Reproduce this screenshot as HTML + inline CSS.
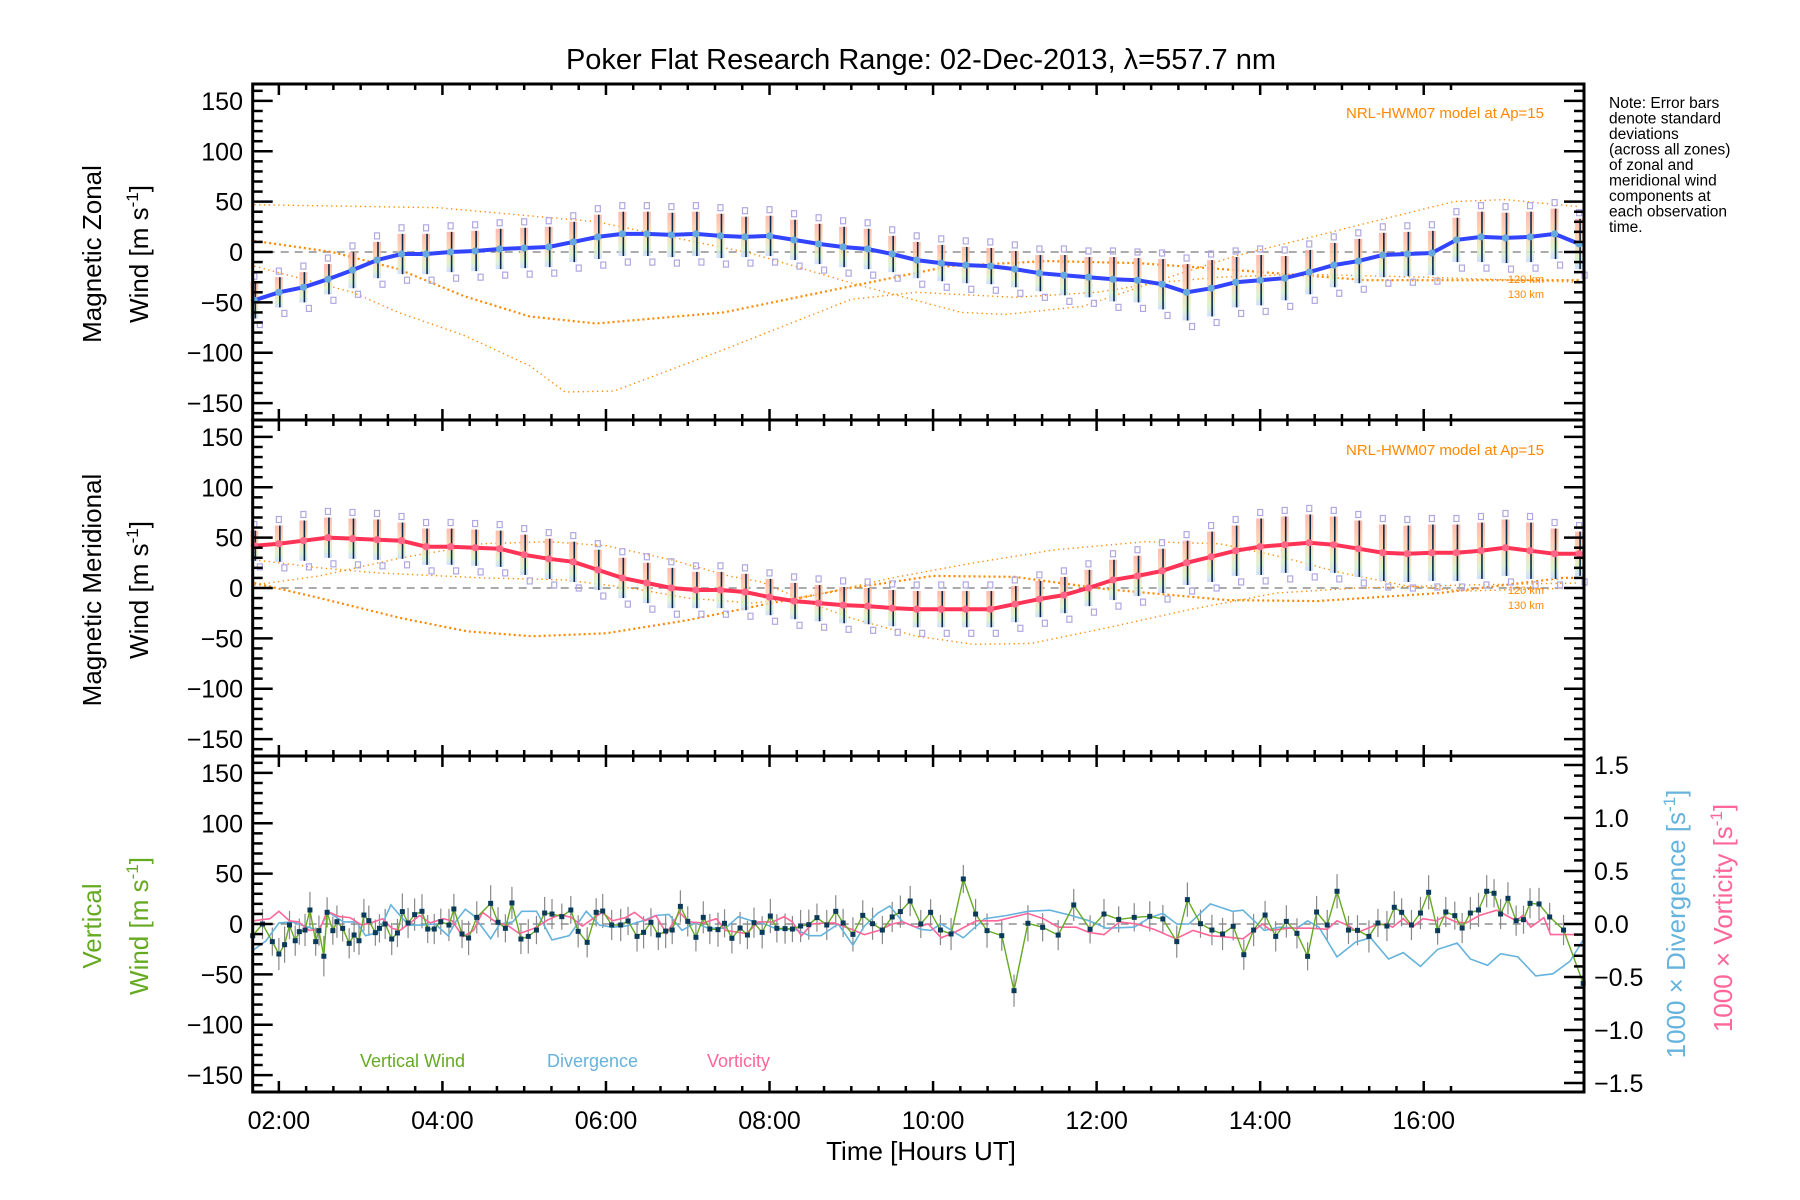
<!DOCTYPE html>
<html><head><meta charset="utf-8"><title>Poker Flat winds</title>
<style>
body{margin:0;background:#fff;}
svg{display:block;font-family:"Liberation Sans",sans-serif;}
</style></head>
<body>
<svg id="chart" width="1800" height="1200" viewBox="0 0 1800 1200" xmlns="http://www.w3.org/2000/svg">
<defs>
<linearGradient id="pastel" x1="0" y1="0" x2="0" y2="1">
<stop offset="0" stop-color="#ffb0a0"/><stop offset="0.5" stop-color="#ffd6a8"/><stop offset="0.8" stop-color="#d8f0c8"/><stop offset="1" stop-color="#c8d8ff"/>
</linearGradient>
</defs>
<rect width="1800" height="1200" fill="#fff"/>
<text x="921" y="69" font-size="29" text-anchor="middle" fill="#000">Poker Flat Research Range: 02-Dec-2013, λ=557.7 nm</text>
<g id="marks"></g>
<g id="axes"></g>
<g font-size="15.5" fill="#000">
<text x="1609" y="108">Note: Error bars</text>
<text x="1609" y="123.5">denote standard</text>
<text x="1609" y="139">deviations</text>
<text x="1609" y="154.5">(across all zones)</text>
<text x="1609" y="170">of zonal and</text>
<text x="1609" y="185.5">meridional wind</text>
<text x="1609" y="201">components at</text>
<text x="1609" y="216.5">each observation</text>
<text x="1609" y="232">time.</text>
</g>
<text x="1544" y="118" font-size="15" text-anchor="end" fill="#ff8800">NRL-HWM07 model at Ap=15</text>
<text x="1544" y="455" font-size="15" text-anchor="end" fill="#ff8800">NRL-HWM07 model at Ap=15</text>
<g font-size="11" fill="#ff8800" text-anchor="end">
<text x="1544" y="283">120 km</text>
<text x="1544" y="298">130 km</text>
<text x="1544" y="594">120 km</text>
<text x="1544" y="609">130 km</text>
</g>
<g font-size="26" text-anchor="middle">
<text transform="translate(101,254) rotate(-90)">Magnetic Zonal</text>
<text transform="translate(148,254) rotate(-90)">Wind [m s<tspan dy="-10" font-size="17">-1</tspan><tspan dy="10">]</tspan></text>
<text transform="translate(101,590) rotate(-90)">Magnetic Meridional</text>
<text transform="translate(148,590) rotate(-90)">Wind [m s<tspan dy="-10" font-size="17">-1</tspan><tspan dy="10">]</tspan></text>
<text fill="#66aa22" transform="translate(101,926) rotate(-90)">Vertical</text>
<text fill="#66aa22" transform="translate(148,926) rotate(-90)">Wind [m s<tspan dy="-10" font-size="17">-1</tspan><tspan dy="10">]</tspan></text>
<text fill="#66b3dd" transform="translate(1685,924) rotate(-90)">1000 × Divergence [s<tspan dy="-10" font-size="17">-1</tspan><tspan dy="10">]</tspan></text>
<text fill="#ff6699" transform="translate(1732,918) rotate(-90)">1000 × Vorticity [s<tspan dy="-10" font-size="17">-1</tspan><tspan dy="10">]</tspan></text>
</g>
<text x="921" y="1160" font-size="26" text-anchor="middle">Time [Hours UT]</text>
<g font-size="18">
<text x="360" y="1067" fill="#66aa22">Vertical Wind</text>
<text x="547" y="1067" fill="#66b3dd">Divergence</text>
<text x="707" y="1067" fill="#ff6699">Vorticity</text>
</g>
</svg>
<script>
// ---- data ----
const meanTimes = [1.7,2.0,2.3,2.6,2.9,3.2,3.5,3.8,4.1,4.4,4.7,5.0,5.3,5.6,5.9,6.2,6.5,6.8,7.1,7.4,7.7,8.0,8.3,8.6,8.9,9.2,9.5,9.8,10.1,10.4,10.7,11.0,11.3,11.6,11.9,12.2,12.5,12.8,13.1,13.4,13.7,14.0,14.3,14.6,14.9,15.2,15.5,15.8,16.1,16.4,16.7,17.0,17.3,17.6,17.9];
const zonalMean = [-48,-40,-35,-27,-18,-8,-2,-2,0,1, 3,4,5,10,15,18,18,17,18,16, 15,16,12,8,5,3,-2,-8,-11,-13, -14,-17,-21,-23,-25,-27,-28,-32,-40,-36, -30,-28,-26,-20,-13,-9,-3,-2,-1,12, 15,14,15,18,8];
const zonalStd = [18,15,15,15,18,18,20,20,20,20, 20,20,20,20,22,22,22,22,22,22, 20,20,20,20,20,20,18,18,18,18, 18,18,18,20,20,22,22,25,28,28, 25,25,22,22,22,22,22,22,22,22, 25,25,25,25,25];
const meridMean = [42,44,47,50,49,48,47,41,41,40, 39,33,29,26,18,10,5,0,-2,-2, -4,-9,-13,-15,-17,-18,-20,-21,-21,-21, -21,-16,-11,-7,0,8,12,17,25,31, 37,41,43,45,43,39,35,34,35,35, 37,40,37,34,34];
const meridStd = [15,18,20,20,20,20,18,18,18,18, 18,20,20,20,20,20,20,20,18,18, 18,18,18,18,18,18,18,18,18,18, 18,18,18,18,18,20,20,22,22,25, 25,28,28,28,28,28,28,28,28,28, 28,28,28,25,22];

const zModelATimes = [1.7,3.95,5.88,7.76,9.01,10.34,10.89,11.83,12.92,13.7,14.49,15.27,16.37,17.0,17.9];
const zModelA = [47,44,30,-1,-31,-60,-62,-54,-24,-4,12,28,50,52,45];
const zModelBTimes = [1.7,2.65,3.46,4.27,5.07,5.88,7.44,9.0,10.2,11.4,12.5,13.7,15.3,17.9];
const zModelB = [11,0,-17,-44,-64,-71,-60,-34,-14,-9,-11,-18,-28,-28];
const zModelCTimes = [1.7,2.9,3.46,4.27,5.07,5.5,6.1,7.44,9.0,9.8,11.0,12.0,12.8,13.5,14.5,16.0,17.9];
const zModelC = [-14,-40,-60,-83,-113,-139,-138,-97,-47,-40,-45,-40,-30,-25,-22,-25,-30];
const mModelATimes = [1.7,2.5,3.5,4.5,5.3,6.0,6.8,7.5,7.9,8.5,9.0,9.8,10.5,11.2,12.1,13.1,14.2,15.2,16.5,17.9];
const mModelA = [3,12,30,44,46,42,28,12,6,-15,-30,-48,-56,-55,-40,-22,-5,0,3,5];
const mModelBTimes = [1.7,2.5,3.5,4.3,5.1,6.0,7.0,7.9,9.0,10.0,11.0,12.1,13.6,14.7,16.2,17.7,17.9];
const mModelB = [5,-10,-30,-43,-48,-45,-32,-17,0,12,11,-1,-12,-13,-5,10,10];
const mModelCTimes = [1.7,2.5,3.2,4.5,5.5,6.3,7.0,7.8,8.5,9.5,10.5,11.5,12.6,13.5,14.2,15.0,15.8,16.5,17.9];
const mModelC = [28,20,15,10,8,0,-10,-15,-8,10,25,38,46,44,32,15,2,-3,0];

const vertTimes = [1.68,1.80,1.92,2.00,2.07,2.13,2.20,2.25,2.32,2.38,2.45,2.49,2.55,2.59,2.66,2.71,2.78,2.86,2.92,2.98,3.04,3.10,3.18,3.23,3.30,3.38,3.45,3.51,3.58,3.66,3.75,3.82,3.90,3.98,4.08,4.14,4.24,4.32,4.42,4.59,4.68,4.77,4.85,4.96,5.05,5.15,5.25,5.34,5.46,5.57,5.66,5.77,5.88,5.96,6.07,6.18,6.27,6.38,6.46,6.55,6.64,6.73,6.81,6.91,7.00,7.10,7.19,7.27,7.37,7.45,7.54,7.64,7.73,7.81,7.91,8.01,8.09,8.19,8.28,8.38,8.48,8.58,8.70,8.81,8.90,9.02,9.14,9.26,9.38,9.50,9.60,9.72,9.85,9.97,10.09,10.22,10.37,10.52,10.66,10.84,10.99,11.16,11.34,11.53,11.72,11.92,12.09,12.27,12.46,12.65,12.81,12.98,13.11,13.27,13.41,13.54,13.67,13.80,13.92,14.06,14.19,14.32,14.45,14.58,14.69,14.82,14.94,15.08,15.19,15.33,15.44,15.55,15.64,15.73,15.85,15.96,16.06,16.17,16.27,16.38,16.47,16.57,16.67,16.77,16.86,16.94,17.03,17.13,17.22,17.30,17.41,17.54,17.71,17.95];
const vertWind = [-11.6,0,-17.5,-29.8,-20.5,-1,-16.6,-7.6,-6,13.9,-17.5,-6.6,-32,11.6,-6.6,2.3,-4.3,-19.2,-10.9,-16.6,8.9,3.3,-8.6,-4.3,0,-14.9,-8.9,12.3,1,9.3,12.6,-5,-5,2.3,-1,14.9,-9.9,-13.9,6.6,20.5,1.7,-4.3,20.9,-14.9,-12.3,-6,10.9,9.9,7.3,13.9,-7.3,-18.2,11.6,12.9,-1,-1,3,-12.3,-8.3,1.7,-10.9,-7,-6,17.5,2.6,-13.2,6.6,-5,-5.6,0.7,-14.2,-4,-10.9,1.3,-8.3,7.9,-4.3,-4.6,-5,-2,-0.7,6.3,-1,12.6,1,-10.3,8.6,0.3,-6,7,12.3,22.8,0,11.6,-6,-9.9,44.7,9.9,-6.6,-11.6,-66.2,0.7,-3.3,-11,18.9,-5.3,9.9,4.6,6.6,7.6,5,-17.5,24.2,0.3,-6,-9.9,-2.3,-30.5,-6,8.9,-12.3,2.6,-9.3,-32.1,11.9,-1,32.5,-6,-6.3,-12.3,1,-2,16.6,11.6,-1,10.9,31.5,-6.6,11.9,8.3,-4,10.9,13.9,32.5,30.5,9.9,25.5,3.3,4.3,20.5,19.9,7,-6,-59];
const vertErr = [12,15,14,16,18,14,15,13,16,18,14,15,20,15,14,16,13,15,17,14,16,15,13,14,15,16,14,18,15,16,17,14,15,13,16,15,14,17,16,18,15,14,16,15,17,14,16,15,13,14,16,15,14,17,15,16,14,15,16,14,15,17,14,16,15,14,16,15,17,14,15,16,14,15,16,17,14,15,13,16,15,14,15,16,14,17,15,16,14,15,16,15,14,13,15,16,14,15,17,15,16,18,14,15,16,14,15,13,14,15,14,16,17,14,15,16,14,15,16,14,15,16,15,14,16,15,17,14,15,16,14,15,16,14,15,16,17,14,15,14,15,16,17,16,14,15,16,15,14,15,16,14,15];

const divTimes = [1.68,1.84,2.0,2.16,2.32,2.48,2.61,2.79,2.95,3.06,3.22,3.37,3.48,3.59,3.75,3.91,4.07,4.17,4.28,4.38,4.59,4.70,4.86,4.97,5.15,5.34,5.55,5.76,5.92,6.08,6.24,6.45,6.61,6.77,6.93,7.09,7.25,7.46,7.62,7.78,7.94,8.10,8.31,8.49,8.63,8.84,9.02,9.16,9.32,9.47,9.63,9.85,9.97,10.10,10.37,10.63,10.90,11.16,11.43,11.69,11.91,12.12,12.46,12.65,12.81,12.98,13.13,13.39,13.66,13.79,14.05,14.24,14.45,14.58,14.72,14.94,15.17,15.35,15.57,15.75,15.96,16.17,16.41,16.57,16.78,16.94,17.15,17.37,17.58,17.79,17.95];
const divergence = [-0.25,-0.16,0.01,0.02,-0.02,-0.06,0.11,0.02,0.02,-0.11,-0.08,0.18,0.08,-0.01,-0.01,0,-0.11,0.03,0.14,0.08,-0.14,0,0.02,0.12,0.12,-0.15,-0.11,0.12,-0.01,-0.03,-0.02,0.03,0.08,0.09,-0.06,0.01,-0.04,-0.04,0.07,0.03,0,-0.05,-0.05,-0.11,-0.11,0,-0.20,-0.02,0.10,0.17,0.02,-0.05,-0.06,0,-0.13,0.05,0.08,0.12,0.13,0.08,0.03,-0.04,-0.03,0.06,0.10,0,0,0.19,0.12,0.13,-0.06,-0.03,-0.04,0.03,-0.03,-0.31,-0.17,-0.13,-0.33,-0.27,-0.40,-0.24,-0.18,-0.33,-0.39,-0.28,-0.31,-0.49,-0.47,-0.35,-0.15];

const vortTimes = [1.68,1.89,2.0,2.13,2.24,2.37,2.50,2.59,2.74,2.87,3.01,3.16,3.27,3.38,3.48,3.64,3.72,3.85,4.01,4.12,4.25,4.38,4.49,4.65,4.81,4.94,5.13,5.29,5.44,5.58,5.71,5.82,5.95,6.08,6.24,6.35,6.48,6.61,6.74,6.90,7.01,7.19,7.35,7.46,7.72,7.86,8.04,8.18,8.28,8.39,8.52,8.68,8.79,9.0,9.16,9.34,9.5,9.63,9.79,9.94,10.10,10.26,10.53,10.79,11.16,11.35,11.53,11.75,11.91,12.09,12.28,12.49,12.70,12.97,13.18,13.39,13.55,13.79,14.03,14.13,14.35,14.61,14.82,14.94,15.09,15.19,15.41,15.54,15.62,15.75,15.86,15.99,16.15,16.25,16.39,16.52,16.68,16.89,16.99,17.13,17.21,17.31,17.47,17.55,17.95];
const vorticity = [0.03,0.05,0.12,0.03,0.02,-0.06,-0.05,0.12,0.07,0.06,-0.01,0.02,0.05,-0.04,-0.06,0.03,0.08,0.01,0.05,0.03,-0.12,-0.06,0.11,0.02,-0.02,-0.09,-0.04,0.04,0.09,0.06,-0.02,0.04,0.11,0.03,0.06,0.11,0.03,0.08,-0.09,0.11,0.02,0.01,0.05,-0.06,-0.09,0.02,0.02,0.07,0.02,-0.11,0,0.01,0.01,-0.05,-0.10,-0.06,0,0.02,-0.03,0,-0.13,-0.08,0.03,0.03,0.10,0.05,-0.03,-0.03,-0.08,-0.10,0.02,0,-0.05,-0.14,-0.06,-0.11,-0.12,-0.14,0,-0.06,-0.04,-0.04,-0.05,0.03,-0.02,-0.08,-0.01,0,-0.03,0.05,-0.03,0.05,0.03,0.07,0.02,0.01,0.08,0.13,0.09,0.03,0.08,-0.03,0.06,-0.10,-0.10];

const yTicks = [-150,-100,-50,0,50,100,150];
const y2Ticks = [-1.5,-1.0,-0.5,0.0,0.5,1.0,1.5];
const xTickLabels = ["02:00","04:00","06:00","08:00","10:00","12:00","14:00","16:00"];
const xTickHours = [2,4,6,8,10,12,14,16];

// ---- geometry ----
const X0=252.7, X1=1584, T0=1.68, T1=17.96;
const PH=336, YR=166.8;
const panelTops=[84,420,756];
const NS="http://www.w3.org/2000/svg";
function xS(t){return X0+(t-T0)/(T1-T0)*(X1-X0);}
function yS(p,v){return panelTops[p]+PH/2-v/YR*(PH/2);}
function y2S(v){return panelTops[2]+PH/2-v*106;}
const marks=document.getElementById('marks');
const axes=document.getElementById('axes');
function mk(tag,attrs,parent){const e=document.createElementNS(NS,tag);for(const k in attrs)e.setAttribute(k,attrs[k]);(parent||marks).appendChild(e);return e;}
function pts(ts,vs,f){return ts.map((t,i)=>xS(t).toFixed(1)+","+f(vs[i]).toFixed(1)).join(" ");}

for(let p=0;p<3;p++){
  const z=mk('line',{x1:X0,x2:X1,y1:yS(p,0),y2:yS(p,0),stroke:'#777','stroke-width':1.3,'stroke-dasharray':'8 6'});
  
  
}

function model(p,ts,vs,thick,name){
  const l=mk('polyline',{points:pts(ts,vs,v=>yS(p,v)),fill:'none',stroke:'#ff8800','stroke-width':thick?2.2:1.4,'stroke-dasharray':thick?'2 3':'1.3 3.5'});
  
  
}
model(0,zModelATimes,zModelA,false,'zonal-model-a');
model(0,zModelBTimes,zModelB,true,'zonal-model-b');
model(0,zModelCTimes,zModelC,false,'zonal-model-c');
model(1,mModelATimes,mModelA,false,'meridional-model-a');
model(1,mModelBTimes,mModelB,true,'meridional-model-b');
model(1,mModelCTimes,mModelC,false,'meridional-model-c');

function meanSeries(p,means,stds,lineColor,dotColor,name){
  meanTimes.forEach((t,i)=>{
    const x=xS(t), m=means[i], s=stds[i];
    const r=mk('rect',{x:x-4,y:yS(p,m+s),width:8,height:yS(p,m-s)-yS(p,m+s),fill:'url(#pastel)',opacity:0.85});
    
    
    const q1=mk('rect',{x:x-2.5,y:yS(p,m+s+6)-3,width:5,height:6,fill:'none',stroke:'#b0a8e0','stroke-width':1.2});
    
    
    const q2=mk('rect',{x:x+3,y:yS(p,m-s-6)-3,width:5,height:6,fill:'none',stroke:'#b0a8e0','stroke-width':1.2});
    
    
    const e=mk('line',{x1:x+1,x2:x+1,y1:yS(p,m+s),y2:yS(p,m-s),stroke:'#0a2a4a','stroke-width':1.6});
    
    
  });
  const l=mk('polyline',{points:pts(meanTimes,means,v=>yS(p,v)),fill:'none',stroke:lineColor,'stroke-width':4});
  
  
  meanTimes.forEach((t,i)=>{
    const c=mk('circle',{cx:xS(t),cy:yS(p,means[i]),r:3.6,fill:dotColor});
    
    
  });
}
meanSeries(0,zonalMean,zonalStd,'#3344ff','#66aadd','zonal');
meanSeries(1,meridMean,meridStd,'#ff3355','#ff6688','meridional');

vertTimes.forEach((t,i)=>{
  const e=mk('line',{x1:xS(t),x2:xS(t),y1:yS(2,vertWind[i]+vertErr[i]),y2:yS(2,vertWind[i]-vertErr[i]),stroke:'#888','stroke-width':1.2});
  
  
});
const dl=mk('polyline',{points:pts(divTimes,divergence,y2S),fill:'none',stroke:'#66b3dd','stroke-width':1.6});


const vl=mk('polyline',{points:pts(vortTimes,vorticity,y2S),fill:'none',stroke:'#ff6699','stroke-width':1.6});


const gl=mk('polyline',{points:pts(vertTimes,vertWind,v=>yS(2,v)),fill:'none',stroke:'#66aa22','stroke-width':1.4});


vertTimes.forEach((t,i)=>{
  const s=mk('rect',{x:xS(t)-2.5,y:yS(2,vertWind[i])-2.5,width:5,height:5,fill:'#0a3a5a'});
  
  
});

for(let p=0;p<3;p++){
  const top=panelTops[p], bot=top+PH;
  const fr=mk('rect',{x:X0,y:top,width:X1-X0,height:PH,fill:'none',stroke:'#000','stroke-width':3},axes);
  
  
  for(let v=-160;v<=160;v+=10){
    const y=yS(p,v), major=(v%50===0);
    const len=major?20:10;
    const tl=mk('line',{x1:X0,x2:X0+len,y1:y,y2:y,stroke:'#000','stroke-width':2.5},axes);
    
    
    if(p<2){
      const tr=mk('line',{x1:X1,x2:X1-len,y1:y,y2:y,stroke:'#000','stroke-width':2.5},axes);
      
      
    }
  }
  yTicks.forEach(v=>{
    const t=mk('text',{x:243,y:yS(p,v)+9,'font-size':25,'text-anchor':'end',fill:'#000'},axes);
    t.textContent=(v<0?'\u2212'+(-v):String(v));
    
    
  });
  for(let m=0;m*(1/3)+1.68<=17.96;m++){
    const h=2+(m-5)/3; if(h<T0||h>T1) continue;
    const major=Math.abs(h-Math.round(h))<1e-6 && Math.round(h)%2===0;
    const len=major?11:6;
    const a=mk('line',{x1:xS(h),x2:xS(h),y1:bot,y2:bot-len,stroke:'#000','stroke-width':2.5},axes);
    
    
    const b=mk('line',{x1:xS(h),x2:xS(h),y1:top,y2:top+len,stroke:'#000','stroke-width':2.5},axes);
    
    
  }
}
for(let v=-1.6;v<=1.61;v+=0.1){
  const vv=Math.round(v*10)/10;
  const major=Math.abs(vv*2-Math.round(vv*2))<1e-6;
  const y=y2S(vv); if(y<panelTops[2]||y>panelTops[2]+PH) continue;
  const t=mk('line',{x1:X1,x2:X1-(major?20:10),y1:y,y2:y,stroke:'#000','stroke-width':2.5},axes);
  
  
}
y2Ticks.forEach(v=>{
  const t=mk('text',{x:1594,y:y2S(v)+9,'font-size':25,fill:'#000'},axes);
  t.textContent=(v<0?'\u2212'+(-v).toFixed(1):v.toFixed(1));
  
  
});
xTickLabels.forEach((s,i)=>{
  const t=mk('text',{x:xS(xTickHours[i]),y:1129,'font-size':25,'text-anchor':'middle',fill:'#000'},axes);
  t.textContent=s;
  
  
});
</script>
</body></html>
